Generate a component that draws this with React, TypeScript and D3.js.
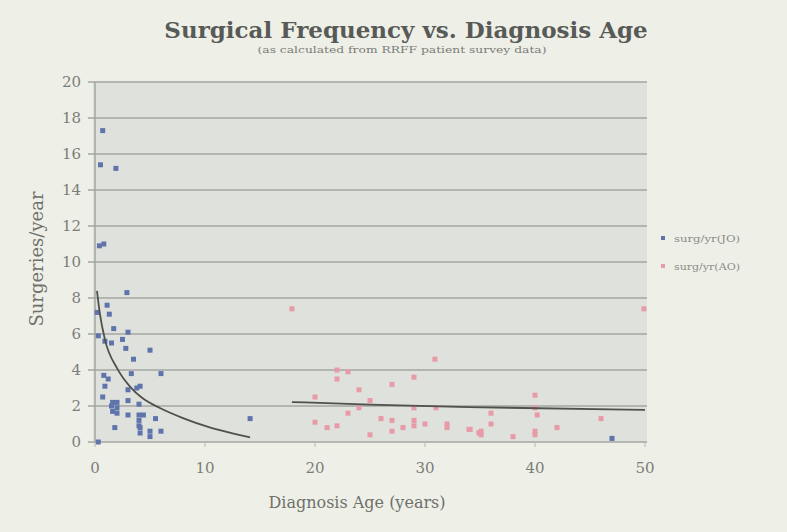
import React from "react";
import * as d3 from "d3";

// surg/yr(JO) points [diagnosis age, surgeries/year]
const joPoints: [number, number][] = [
  [0.7, 17.3], [0.5, 15.4], [1.9, 15.2], [0.4, 10.9], [0.8, 11.0],
  [2.9, 8.3], [1.1, 7.6], [1.3, 7.1], [0.2, 7.2], [1.7, 6.3],
  [3.0, 6.1], [0.3, 5.9], [0.9, 5.6], [1.5, 5.5], [2.5, 5.7],
  [2.8, 5.2], [5.0, 5.1], [3.5, 4.6], [3.3, 3.8], [6.0, 3.8],
  [0.8, 3.7], [1.2, 3.5], [0.9, 3.1], [3.0, 2.9], [4.1, 3.1],
  [3.8, 3.0], [0.7, 2.5], [3.0, 2.3], [1.6, 2.2], [2.0, 2.2],
  [1.5, 2.0], [2.0, 1.9], [4.0, 2.1], [1.6, 1.7], [2.0, 1.6],
  [3.0, 1.5], [4.0, 1.5], [4.4, 1.5], [5.5, 1.3], [4.0, 1.2],
  [4.0, 0.9], [1.8, 0.8], [4.1, 0.8], [4.1, 0.5], [5.0, 0.6],
  [6.0, 0.6], [5.0, 0.3], [0.3, 0.0], [14.1, 1.3], [47.0, 0.2],
];

// surg/yr(AO) points
const aoPoints: [number, number][] = [
  [17.9, 7.4], [30.9, 4.6], [22.0, 4.0], [23.0, 3.9], [22.0, 3.5],
  [29.0, 3.6], [27.0, 3.2], [24.0, 2.9], [20.0, 2.5], [25.0, 2.3],
  [24.0, 1.9], [29.0, 1.9], [31.0, 1.9], [23.0, 1.6], [20.0, 1.1],
  [26.0, 1.3], [27.0, 1.2], [29.0, 1.2], [21.1, 0.8], [22.0, 0.9],
  [28.0, 0.8], [29.0, 0.9], [30.0, 1.0], [32.0, 1.0], [32.0, 0.8],
  [27.0, 0.6], [25.0, 0.4], [34.0, 0.7], [34.9, 0.5], [49.9, 7.4],
  [40.0, 2.6], [40.0, 1.9], [40.2, 1.5], [36.0, 1.6], [36.0, 1.0],
  [46.0, 1.3], [42.0, 0.8], [40.0, 0.6], [40.0, 0.4], [38.0, 0.3],
  [35.1, 0.6], [35.1, 0.4], [34.1, 0.7],
];

// trend lines
const joTrend: [number, number][] = [
  [0.18, 8.4], [0.45, 7.1], [0.9, 5.7], [2.0, 4.1], [3.2, 3.06],
  [4.3, 2.44], [5.9, 1.89], [8.0, 1.33], [10.5, 0.8], [12.5, 0.48],
  [14.1, 0.26],
];
const aoTrend: [number, number][] = [
  [17.9, 2.22], [25, 2.08], [34, 1.94], [50, 1.78],
];

const xTicks = [0, 10, 20, 30, 40, 50];
const yTicks = [0, 2, 4, 6, 8, 10, 12, 14, 16, 18, 20];

const legendItems = [
  { label: "surg/yr(JO)", color: "#5f74ab" },
  { label: "surg/yr(AO)", color: "#e89aa6" },
];

export default function App() {
  const width = 787;
  const height = 532;
  const margin = { top: 82, left: 95, right: 142, bottom: 90 };

  const x = d3.scaleLinear().domain([0, 50]).range([margin.left, width - margin.right]);
  const y = d3.scaleLinear().domain([0, 20]).range([height - margin.bottom, margin.top]);

  const line = d3
    .line<[number, number]>()
    .x((d) => x(d[0]))
    .y((d) => y(d[1]))
    .curve(d3.curveMonotoneX);

  const serif = "'DejaVu Serif', serif";
  const size = 5;

  return (
    <svg
      width={width}
      height={height}
      style={{ position: "absolute", left: 0, top: 0, background: "#eef0e7" }}
    >
      <rect x={0} y={0} width={width} height={height} fill="#eef0e7" />
      <text x={406} y={38} textAnchor="middle" fontFamily={serif} fontWeight="bold" fontSize={23} fill="#585a57">
        Surgical Frequency vs. Diagnosis Age
      </text>
      <text
        x={402}
        y={53}
        textAnchor="middle"
        fontFamily={serif}
        fontSize={9}
        fill="#7a7c78"
        textLength={289}
        lengthAdjust="spacingAndGlyphs"
      >
        (as calculated from RRFF patient survey data)
      </text>

      <rect
        x={x(0) - 2}
        y={y(20)}
        width={x(50) - x(0) + 4}
        height={y(0) - y(20)}
        fill="#dfe1dc"
      />
      {yTicks.map((t) => (
        <g key={t}>
          <line x1={x(0) - 7} x2={x(50) + 2} y1={y(t)} y2={y(t)} stroke="#a4a6a2" strokeWidth={1.5} />
          <text x={81} y={y(t) + 5} textAnchor="end" fontFamily={serif} fontSize={15} fill="#7c7e7a">
            {t}
          </text>
        </g>
      ))}
      <line x1={x(0)} x2={x(0)} y1={y(20)} y2={y(0)} stroke="#a4a6a2" strokeWidth={1.5} />
      {xTicks.map((t) => (
        <g key={t}>
          <line x1={x(t)} x2={x(t)} y1={y(0)} y2={y(0) + 5} stroke="#b4b6b2" strokeWidth={1} />
          <text x={x(t)} y={y(0) + 31} textAnchor="middle" fontFamily={serif} fontSize={15} fill="#7c7e7a">
            {t}
          </text>
        </g>
      ))}

      {joPoints.map((d, i) => (
        <rect key={"j" + i} x={x(d[0]) - size / 2} y={y(d[1]) - size / 2} width={size} height={size} fill={legendItems[0].color} />
      ))}
      {aoPoints.map((d, i) => (
        <rect key={"a" + i} x={x(d[0]) - size / 2} y={y(d[1]) - size / 2} width={size} height={size} fill={legendItems[1].color} />
      ))}

      <path d={line(joTrend) ?? ""} fill="none" stroke="#4f514b" strokeWidth={1.8} />
      <path d={line(aoTrend) ?? ""} fill="none" stroke="#4f514b" strokeWidth={1.8} />

      <text x={357} y={508} textAnchor="middle" fontFamily={serif} fontSize={16} fill="#6e706c">
        Diagnosis Age (years)
      </text>
      <text
        transform={`translate(43, ${y(10) - 3}) rotate(-90)`}
        textAnchor="middle"
        fontFamily={serif}
        fontSize={18}
        fill="#6e706c"
      >
        Surgeries/year
      </text>

      {legendItems.map((item, i) => (
        <g key={item.label} transform={`translate(663, ${238 + i * 28})`}>
          <rect x={-2} y={-2} width={4} height={4} fill={item.color} />
          <text x={11} y={3.5} fontFamily={serif} fontSize={10} fill="#8a8c88" textLength={66} lengthAdjust="spacingAndGlyphs">
            {item.label}
          </text>
        </g>
      ))}
    </svg>
  );
}
